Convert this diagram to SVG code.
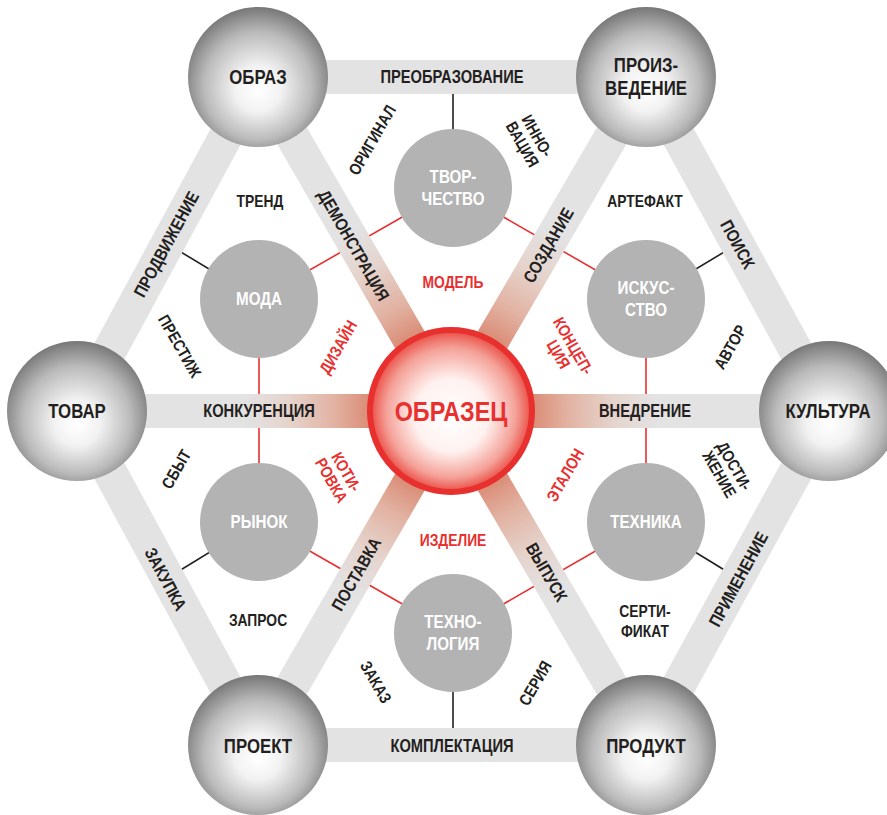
<svg xmlns="http://www.w3.org/2000/svg" width="887" height="815" viewBox="0 0 887 815">
<defs>
<radialGradient id="sphere" cx="0.5" cy="0.55" r="0.55" fx="0.5" fy="0.6">
<stop offset="0" stop-color="#ffffff"/><stop offset="0.3" stop-color="#f2f2f2"/><stop offset="0.7" stop-color="#bababa"/><stop offset="1" stop-color="#777777"/>
</radialGradient>
<radialGradient id="core" cx="0.5" cy="0.5" r="0.5" fx="0.5" fy="0.55">
<stop offset="0" stop-color="#ffffff"/><stop offset="0.45" stop-color="#fff2f0"/><stop offset="0.8" stop-color="#f4a198"/><stop offset="1" stop-color="#ea4b42"/>
</radialGradient>
<radialGradient id="spoke" gradientUnits="userSpaceOnUse" cx="451" cy="411" r="260">
<stop offset="0.3" stop-color="#d98871"/><stop offset="0.45" stop-color="#e2b2a2"/><stop offset="0.62" stop-color="#e5d3cc"/><stop offset="0.8" stop-color="#e3e3e4"/>
</radialGradient>
</defs>
<style>
.band{stroke:#e3e3e4;stroke-width:34;fill:none}
.spoke{stroke:url(#spoke);stroke-width:34}
.blk{stroke:#231f20;stroke-width:1.6}
.red{stroke:#e8302f;stroke-width:1.6}
.outer{fill:url(#sphere)}
.inner{fill:#b3b3b3}
.core{fill:url(#core);stroke:#e8302f;stroke-width:6}
text{font-family:"Liberation Sans",Arial,Helvetica,sans-serif;font-weight:bold;text-anchor:middle;dominant-baseline:central}
.on{font-size:20.5px;fill:#231f20}
.in{font-size:18.5px;fill:#ffffff}
.bl{font-size:17.5px;fill:#231f20}
.fl{font-size:16.5px;fill:#231f20}
.rl{font-size:16.5px;fill:#e8302f}
.cl{font-size:28.5px;fill:#e8302f}
</style>
<rect width="887" height="815" fill="#ffffff"/>
<g id="connectors">
<g id="thin-lines">
<line class="blk" x1="259" y1="299" x2="167.5" y2="244"/>
<line class="blk" x1="453" y1="188" x2="453" y2="77"/>
<line class="blk" x1="646" y1="299" x2="737.5" y2="244"/>
<line class="blk" x1="646" y1="522" x2="737.5" y2="578"/>
<line class="blk" x1="453" y1="633" x2="453" y2="745"/>
<line class="blk" x1="259" y1="522" x2="167.5" y2="578"/>
<polygon class="red" fill="none" points="259,299 453,188 646,299 646,522 453,633 259,522"/>
</g>
<g id="bands">
<line class="band" x1="258" y1="77" x2="646" y2="77"/>
<line class="band" x1="646" y1="77" x2="829" y2="411"/>
<line class="band" x1="829" y1="411" x2="646" y2="745"/>
<line class="band" x1="646" y1="745" x2="258" y2="745"/>
<line class="band" x1="258" y1="745" x2="77" y2="411"/>
<line class="band" x1="77" y1="411" x2="258" y2="77"/>
<line class="spoke" x1="451" y1="411" x2="258" y2="77"/>
<line class="spoke" x1="451" y1="411" x2="646" y2="77"/>
<line class="spoke" x1="451" y1="411" x2="829" y2="411"/>
<line class="spoke" x1="451" y1="411" x2="646" y2="745"/>
<line class="spoke" x1="451" y1="411" x2="258" y2="745"/>
<line class="spoke" x1="451" y1="411" x2="77" y2="411"/>
</g>
<g id="band-labels">
<text class="bl" transform="translate(452,77) scale(0.84,1)">ПРЕОБРАЗОВАНИЕ</text>
<text class="bl" transform="translate(452,746) scale(0.84,1)">КОМПЛЕКТАЦИЯ</text>
<text class="bl" transform="translate(259,411) scale(0.84,1)">КОНКУРЕНЦИЯ</text>
<text class="bl" transform="translate(645,411) scale(0.84,1)">ВНЕДРЕНИЕ</text>
<text class="bl" transform="translate(166,244) rotate(-61.5) scale(0.84,1)">ПРОДВИЖЕНИЕ</text>
<text class="bl" transform="translate(166,579) rotate(61.5) scale(0.84,1)">ЗАКУПКА</text>
<text class="bl" transform="translate(738,244) rotate(61.5) scale(0.84,1)">ПОИСК</text>
<text class="bl" transform="translate(738,579) rotate(-61.5) scale(0.84,1)">ПРИМЕНЕНИЕ</text>
<text class="bl" transform="translate(354,245) rotate(60) scale(0.84,1)">ДЕМОНСТРАЦИЯ</text>
<text class="bl" transform="translate(548,245) rotate(-60) scale(0.84,1)">СОЗДАНИЕ</text>
<text class="bl" transform="translate(356,574) rotate(-60) scale(0.84,1)">ПОСТАВКА</text>
<text class="bl" transform="translate(547,572) rotate(60) scale(0.84,1)">ВЫПУСК</text>
</g>
</g>
<g id="node-obrazets"><circle class="core" cx="451" cy="411" r="81"/><text class="cl" transform="translate(451,411) scale(0.82,1)">ОБРАЗЕЦ</text></g>
<g id="node-obraz"><circle class="outer" cx="258" cy="77" r="70"/><text class="on" transform="translate(258,77) scale(0.82,1)">ОБРАЗ</text></g>
<g id="node-proizvedenie"><circle class="outer" cx="646" cy="77" r="70"/><text class="on" transform="translate(646,65) scale(0.82,1)">ПРОИЗ-</text><text class="on" transform="translate(646,88) scale(0.82,1)">ВЕДЕНИЕ</text></g>
<g id="node-tovar"><circle class="outer" cx="77" cy="411" r="70"/><text class="on" transform="translate(77,411) scale(0.82,1)">ТОВАР</text></g>
<g id="node-kultura"><circle class="outer" cx="829" cy="411" r="70"/><text class="on" transform="translate(828,411) scale(0.82,1)">КУЛЬТУРА</text></g>
<g id="node-proekt"><circle class="outer" cx="258" cy="745" r="70"/><text class="on" transform="translate(258,746) scale(0.82,1)">ПРОЕКТ</text></g>
<g id="node-produkt"><circle class="outer" cx="646" cy="745" r="70"/><text class="on" transform="translate(646,746) scale(0.82,1)">ПРОДУКТ</text></g>
<g id="node-tvorchestvo"><circle class="inner" cx="453" cy="188" r="59"/><text class="in" transform="translate(453,177) scale(0.82,1)">ТВОР-</text><text class="in" transform="translate(453,199) scale(0.82,1)">ЧЕСТВО</text></g>
<g id="node-moda"><circle class="inner" cx="259" cy="299" r="59"/><text class="in" transform="translate(259,299) scale(0.82,1)">МОДА</text></g>
<g id="node-iskusstvo"><circle class="inner" cx="646" cy="299" r="59"/><text class="in" transform="translate(646,288) scale(0.82,1)">ИСКУС-</text><text class="in" transform="translate(646,310) scale(0.82,1)">СТВО</text></g>
<g id="node-rynok"><circle class="inner" cx="259" cy="522" r="59"/><text class="in" transform="translate(259,522) scale(0.82,1)">РЫНОК</text></g>
<g id="node-tehnika"><circle class="inner" cx="646" cy="522" r="59"/><text class="in" transform="translate(646,522) scale(0.82,1)">ТЕХНИКА</text></g>
<g id="node-tehnologiya"><circle class="inner" cx="453" cy="633" r="59"/><text class="in" transform="translate(453,622) scale(0.82,1)">ТЕХНО-</text><text class="in" transform="translate(453,644) scale(0.82,1)">ЛОГИЯ</text></g>
<g id="labels">
<text class="fl" transform="translate(260,201) scale(0.84,1)">ТРЕНД</text>
<text class="fl" transform="translate(645,201) scale(0.84,1)">АРТЕФАКТ</text>
<text class="fl" transform="translate(258,620) scale(0.84,1)">ЗАПРОС</text>
<text class="fl" transform="translate(645,611) scale(0.84,1)">СЕРТИ-</text>
<text class="fl" transform="translate(645,631) scale(0.84,1)">ФИКАТ</text>
<text class="fl" transform="translate(372,140) rotate(-60) scale(0.84,1)">ОРИГИНАЛ</text>
<g transform="translate(530,140) rotate(60)"><text class="fl" transform="translate(0,-8.5) scale(0.84,1)">ИННО-</text><text class="fl" transform="translate(0,8.5) scale(0.84,1)">ВАЦИЯ</text></g>
<text class="fl" transform="translate(180,346) rotate(60) scale(0.84,1)">ПРЕСТИЖ</text>
<text class="fl" transform="translate(730,347) rotate(-60) scale(0.84,1)">АВТОР</text>
<text class="fl" transform="translate(176,469) rotate(-60) scale(0.84,1)">СБЫТ</text>
<g transform="translate(727,470) rotate(60)"><text class="fl" transform="translate(0,-8.5) scale(0.84,1)">ДОСТИ-</text><text class="fl" transform="translate(0,8.5) scale(0.84,1)">ЖЕНИЕ</text></g>
<text class="fl" transform="translate(376,682) rotate(60) scale(0.84,1)">ЗАКАЗ</text>
<text class="fl" transform="translate(535,683) rotate(-60) scale(0.84,1)">СЕРИЯ</text>
<text class="rl" transform="translate(453,282) scale(0.84,1)">МОДЕЛЬ</text>
<text class="rl" transform="translate(453,540) scale(0.84,1)">ИЗДЕЛИЕ</text>
<text class="rl" transform="translate(338,347) rotate(-60) scale(0.84,1)">ДИЗАЙН</text>
<text class="rl" transform="translate(565,475) rotate(-60) scale(0.84,1)">ЭТАЛОН</text>
<g transform="translate(566,350) rotate(60)"><text class="rl" transform="translate(0,-8.5) scale(0.84,1)">КОНЦЕП-</text><text class="rl" transform="translate(0,8.5) scale(0.84,1)">ЦИЯ</text></g>
<g transform="translate(339,476) rotate(60)"><text class="rl" transform="translate(0,-8.5) scale(0.84,1)">КОТИ-</text><text class="rl" transform="translate(0,8.5) scale(0.84,1)">РОВКА</text></g>
</g>
</svg>
